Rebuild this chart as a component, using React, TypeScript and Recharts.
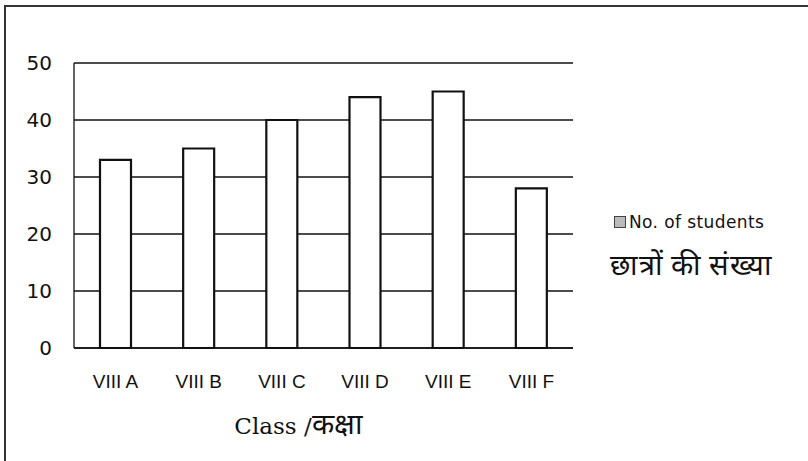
import React from 'react';
import { BarChart, Bar, XAxis, YAxis, CartesianGrid, Legend, Label, Customized } from 'recharts';

const classes = ['VIII A', 'VIII B', 'VIII C', 'VIII D', 'VIII E', 'VIII F'];
const students = [33, 35, 40, 44, 45, 28];
const yTicks = [0, 10, 20, 30, 40, 50];

const data = classes.map((c, i) => ({ name: c, students: students[i] }));

const LegendBox = () => (
  <div style={{ color: '#111', textAlign: 'left' }}>
    <div
      style={{
        display: 'flex',
        alignItems: 'center',
        fontSize: 17,
        letterSpacing: 0.4,
        fontFamily: '"DejaVu Sans", Verdana, sans-serif',
      }}
    >
      <span
        style={{
          display: 'inline-block',
          width: 10,
          height: 10,
          border: '1px solid #444',
          background: '#bbb',
          marginRight: 3,
        }}
      />
      No. of students
    </div>
    <div style={{ fontSize: 29, marginTop: 12, marginLeft: -4, letterSpacing: 0.5 }}>छात्रों की संख्या</div>
  </div>
);

const AxisTitle = (props: any) => {
  const vb = props.viewBox || { x: 0, y: 0, width: 0, height: 0 };
  return (
    <text
      x={vb.x + vb.width / 2 - 25}
      y={vb.y + 86}
      textAnchor="middle"
      fontFamily='"DejaVu Serif", "Liberation Serif", serif'
      fontSize={23}
      fill="#111"
    >
      Class /<tspan fontSize={29} fontFamily="sans-serif">कक्षा</tspan>
    </text>
  );
};

// outer frame of the cropped picture: only top and left edges show
const Frame = () => (
  <g>
    <line x1={5} y1={6} x2={5} y2={461} stroke="#333" strokeWidth={2} />
    <line x1={4} y1={6} x2={808} y2={6} stroke="#333" strokeWidth={2} />
  </g>
);

export default function App() {
  return (
    <div style={{ position: 'fixed', left: 0, top: 0, width: 808, height: 461, background: '#fff' }}>
      <BarChart
        width={808}
        height={461}
        data={data}
        margin={{ top: 63, right: 235, bottom: 83, left: 0 }}
        barSize={31}
      >
        <CartesianGrid vertical={false} stroke="#111" strokeWidth={1.3} strokeOpacity={1} />
        <XAxis
          dataKey="name"
          height={30}
          axisLine={{ stroke: '#111', strokeWidth: 1.5 }}
          tickLine={false}
          tickSize={0}
          tickMargin={27}
          tick={{ fill: '#111', fontSize: 19, fontFamily: '"Liberation Sans", Arial, sans-serif' }}
        >
          <Label content={<AxisTitle />} />
        </XAxis>
        <YAxis
          width={74}
          domain={[0, 50]}
          ticks={yTicks}
          axisLine={{ stroke: '#111', strokeWidth: 1.3 }}
          tickLine={false}
          tickSize={0}
          tickMargin={22}
          tick={{ fill: '#111', fontSize: 20, fontFamily: '"DejaVu Sans", Verdana, sans-serif' }}
        />
        <Legend
          layout="horizontal"
          align="center"
          verticalAlign="middle"
          content={<LegendBox />}
          wrapperStyle={{ left: 614, top: 212, width: 194 }}
        />
        <Bar dataKey="students" fill="#fff" stroke="#111" strokeWidth={2.2} isAnimationActive={false} />
        <Customized component={<Frame />} />
      </BarChart>
    </div>
  );
}
